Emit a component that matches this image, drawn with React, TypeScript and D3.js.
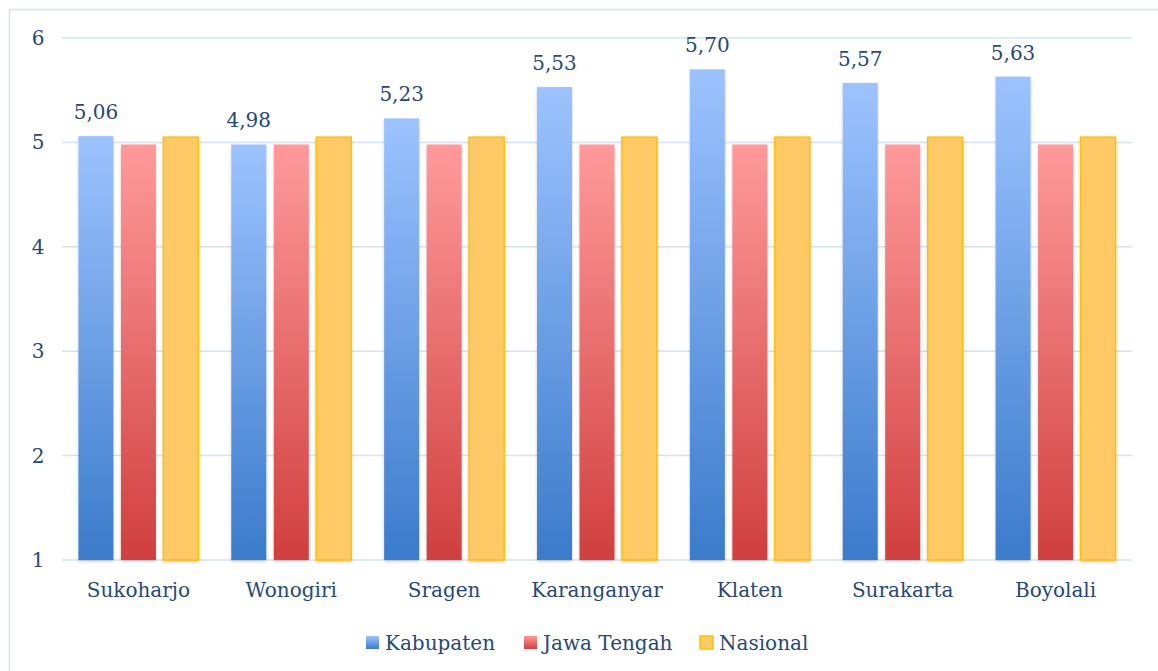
import React from "react";
import * as d3 from "d3";

const categories = ["Sukoharjo", "Wonogiri", "Sragen", "Karanganyar", "Klaten", "Surakarta", "Boyolali"];
const seriesNames = ["Kabupaten", "Jawa Tengah", "Nasional"];
const kabupaten = [5.06, 4.98, 5.23, 5.53, 5.7, 5.57, 5.63];
const jawaTengah = [4.98, 4.98, 4.98, 4.98, 4.98, 4.98, 4.98];
const nasional = [5.05, 5.05, 5.05, 5.05, 5.05, 5.05, 5.05];
const yTicks = [1, 2, 3, 4, 5, 6];

const W = 1158;
const H = 671;
const font = "'DejaVu Serif', serif";
const textColor = "#27497a";
const fs = 20;

const App: React.FC = () => {
  const x = d3.scaleBand<string>().domain(categories).range([62, 1132]);
  const y = d3.scaleLinear().domain([1, 6]).range([560, 38]);
  const barW = 35;
  const step = 42.5;

  const series = [
    { name: seriesNames[0], values: kabupaten, fill: "url(#gBlue)", stroke: "none" },
    { name: seriesNames[1], values: jawaTengah, fill: "url(#gRed)", stroke: "none" },
    { name: seriesNames[2], values: nasional, fill: "#ffca65", stroke: "#ffc000" },
  ];

  const legendX = [366, 524, 700];

  return (
    <svg width={W} height={H} style={{ position: "absolute", left: 0, top: 0 }}>
      <defs>
        <linearGradient id="gBlue" x1="0" y1="0" x2="0" y2="1">
          <stop offset="0" stopColor="#9dc3ff" />
          <stop offset="1" stopColor="#3b7bcb" />
        </linearGradient>
        <linearGradient id="gRed" x1="0" y1="0" x2="0" y2="1">
          <stop offset="0" stopColor="#ff9a9a" />
          <stop offset="1" stopColor="#d03f3f" />
        </linearGradient>
        <filter id="shadow" x="-20%" y="-5%" width="140%" height="110%">
          <feDropShadow dx="0" dy="1.5" stdDeviation="1.5" floodColor="#000" floodOpacity="0.2" />
        </filter>
      </defs>
      <rect x={0} y={0} width={W} height={H} fill="#fff" />
      <rect x={9.5} y={9.5} width={W + 10} height={H + 10} fill="none" stroke="#d6e2f3" strokeWidth={1.5} />

      {yTicks.map((t) => (
        <g key={t}>
          <line x1={62} x2={1132} y1={y(t)} y2={y(t)} stroke="#d6e2f3" strokeWidth={1.5} />
          <text x={38} y={y(t)} dy="0.35em" textAnchor="middle" fontFamily={font} fontSize={fs} fill={textColor}>
            {t}
          </text>
        </g>
      ))}

      {categories.map((c, i) => {
        const cx = x(c)! + x.bandwidth() / 2;
        return (
          <g key={c}>
            {series.map((s, j) => {
              const bx = cx - step + j * step - barW / 2;
              const top = y(s.values[i]);
              return (
                <rect
                  key={s.name}
                  x={bx}
                  y={top}
                  width={barW}
                  height={y(1) - top}
                  fill={s.fill}
                  stroke={s.stroke}
                  strokeWidth={s.stroke === "none" ? 0 : 1.5}
                  filter="url(#shadow)"
                />
              );
            })}
            <text
              x={cx - step}
              y={y(kabupaten[i]) - 17}
              textAnchor="middle"
              fontFamily={font}
              fontSize={fs}
              fill={textColor}
            >
              {d3.format(".2f")(kabupaten[i]).replace(".", ",")}
            </text>
            <text x={cx} y={597} textAnchor="middle" fontFamily={font} fontSize={fs} fill={textColor}>
              {c}
            </text>
          </g>
        );
      })}

      {series.map((s, j) => (
        <g key={s.name}>
          <rect
            x={legendX[j]}
            y={636}
            width={13}
            height={13}
            fill={s.fill}
            stroke={s.stroke}
            strokeWidth={s.stroke === "none" ? 0 : 1.5}
          />
          <text x={legendX[j] + 19} y={650} fontFamily={font} fontSize={fs} fill={textColor}>
            {s.name}
          </text>
        </g>
      ))}
    </svg>
  );
};

export default App;
